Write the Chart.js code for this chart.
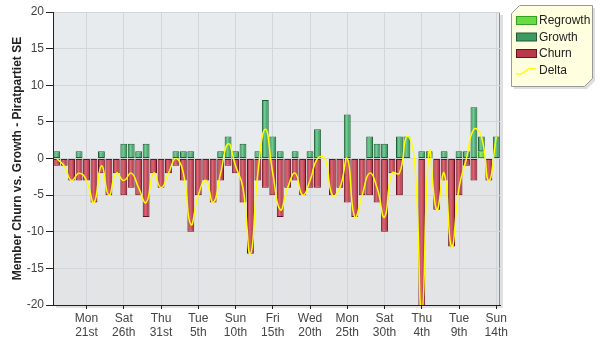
<!DOCTYPE html>
<html>
<head>
<meta charset="utf-8">
<script src="https://cdn.jsdelivr.net/npm/chart.js@4.4.0/dist/chart.umd.min.js"></script>
<style>
  html, body { margin: 0; padding: 0; background: #fff; }
  #wrap { width: 600px; height: 350px; }
</style>
</head>
<body>
<div id="wrap"><canvas id="churnChart" width="600" height="350"></canvas></div>
<script>
// one entry per day, 17th of the first month to 14th of the third
const days = [17, 18, 19, 20, 21, 22, 23, 24, 25, 26, 27, 28, 29, 30, 31,
  1, 2, 3, 4, 5, 6, 7, 8, 9, 10, 11, 12, 13, 14, 15, 16, 17, 18, 19, 20, 21, 22, 23, 24, 25, 26, 27, 28, 29, 30, 31,
  1, 2, 3, 4, 5, 6, 7, 8, 9, 10, 11, 12, 13, 14];

const tickIndex = [4, 9, 14, 19, 24, 29, 34, 39, 44, 49, 54, 59];
const tickLabels = [["Mon", "21st"], ["Sat", "26th"], ["Thu", "31st"], ["Tue", "5th"], ["Sun", "10th"], ["Fri", "15th"],
  ["Wed", "20th"], ["Mon", "25th"], ["Sat", "30th"], ["Thu", "4th"], ["Tue", "9th"], ["Sun", "14th"]];

const regrowth = [0, 0, 0, 0, 0, 0, 0, 0, 0, 0, 0, 0, 0, 0, 0, 0, 0, 0, 0, 0,
  0, 0, 0, 0, 0, 0, 0, 0, 0, 0, 0, 0, 0, 0, 0, 0, 0, 0, 0, 0,
  0, 0, 0, 0, 0, 0, 0, 0, 0, 0, 0, 0, 0, 0, 0, 0, 0, 1, 0, 0];
const growth = [1, 0, 0, 1, 0, 0, 1, 0, 0, 2, 2, 1, 2, 0, 0, 0, 1, 1, 1, 0,
  0, 0, 1, 3, 1, 2, 0, 1, 8, 3, 1, 0, 1, 0, 1, 4, 0, 0, 0, 6,
  0, 0, 3, 2, 2, 0, 3, 3, 0, 1, 1, 0, 1, 0, 1, 1, 7, 2, 0, 3];
const churn = [-1, -1, -3, -3, -3, -6, -2, -5, -2, -5, -4, -5, -8, -2, -4, -2, -1, -3, -10, -5,
  -3, -6, -3, -1, -2, -6, -13, -3, -4, -5, -8, -4, -3, -5, -4, -4, 0, -5, -4, -6,
  -8, -5, -5, -6, -10, -2, -5, 0, 0, -22, 0, -7, -3, -12, -5, -1, -3, 0, -3, 0];
const delta = [0, -1, -3, -2, -3, -6, -1, -5, -2, -3, -2, -4, -6, -2, -4, -2, 0, -2, -9, -5,
  -3, -6, -2, 2, -1, -4, -13, -2, 4, -2, -7, -4, -2, -5, -3, 0, 0, -5, -4, 0,
  -8, -5, -2, -4, -8, -2, -2, 3, 0, -21, 1, -7, -2, -12, -4, 0, 4, 3, -3, 3];

const font = "'Liberation Sans', Arial, sans-serif";

// cylinder look: dark edges, light middle
function barFill(dark, light) {
  return (ctx) => {
    const chart = ctx.chart;
    const xs = chart.scales.x;
    if (!chart.chartArea || !xs || ctx.type !== "data") return dark;
    const cx = xs.getPixelForValue(ctx.dataIndex);
    const g = chart.ctx.createLinearGradient(cx - 3.4, 0, cx + 3.4, 0);
    g.addColorStop(0, dark);
    g.addColorStop(0.4, light);
    g.addColorStop(1, dark);
    return g;
  };
}

const plotBg = {
  id: "plotBg",
  beforeDraw(chart) {
    const { ctx, chartArea } = chart;
    const { left, top, right, bottom } = chartArea;
    const y0 = chart.scales.y.getPixelForValue(0);
    ctx.save();
    ctx.fillStyle = "rgba(0,0,0,0.12)";
    ctx.fillRect(left + 3, top + 3, right - left, bottom - top);
    ctx.fillStyle = "#e8ebee";
    ctx.fillRect(left, top, right - left, y0 - top);
    ctx.fillStyle = "#e2e4e6";
    ctx.fillRect(left, y0, right - left, bottom - y0);
    ctx.strokeStyle = "#8c8c8c";
    ctx.lineWidth = 1;
    ctx.strokeRect(left + 0.5, top + 0.5, right - left - 1, bottom - top);
    ctx.restore();
  }
};

const legendBox = {
  id: "legendBox",
  afterDraw(chart) {
    const c = chart.ctx;
    const x0 = 511, y0 = 5, x1 = 592, y1 = 86, b = 8;
    const shape = (d) => {
      c.beginPath();
      c.moveTo(x0 + b + d, y0 + d);
      c.lineTo(x1 + d, y0 + d);
      c.lineTo(x1 + d, y1 - b + d);
      c.lineTo(x1 - b + d, y1 + d);
      c.lineTo(x0 + d, y1 + d);
      c.lineTo(x0 + d, y0 + b + d);
      c.closePath();
    };
    c.save();
    shape(3);
    c.fillStyle = "rgba(0,0,0,0.13)";
    c.fill();
    shape(0.5);
    c.fillStyle = "#ffffe0";
    c.fill();
    c.strokeStyle = "#999";
    c.lineWidth = 1;
    c.stroke();

    const items = [
      { text: "Regrowth", fill: "#66dd44", edge: "#33a020" },
      { text: "Growth", fill: "#3e9a62", edge: "#1f5e35" },
      { text: "Churn", fill: "#b8394c", edge: "#6e1222" },
      { text: "Delta", line: "#ffff00" }
    ];
    c.font = "12px " + font;
    c.textBaseline = "middle";
    items.forEach((it, i) => {
      const cy = 21 + i * 16.5;
      if (it.line) {
        c.beginPath();
        c.moveTo(516, cy + 3);
        c.bezierCurveTo(521, cy + 5, 524, cy + 2, 526, cy);
        c.bezierCurveTo(529, cy - 3, 532, cy - 3, 536, cy - 1);
        c.strokeStyle = it.line;
        c.lineWidth = 1.5;
        c.stroke();
      } else {
        c.fillStyle = it.fill;
        c.fillRect(516.5, cy - 4.5, 20, 8);
        c.strokeStyle = it.edge;
        c.lineWidth = 1;
        c.strokeRect(516.5, cy - 4.5, 20, 8);
      }
      c.fillStyle = "#222";
      c.fillText(it.text, 539, cy);
    });
    c.restore();
  }
};

const ctx = document.getElementById("churnChart").getContext("2d");
const churnChart = new Chart(ctx, {
  type: "bar",
  data: {
    labels: days,
    datasets: [
      {
        type: "line",
        label: "Delta",
        data: delta,
        stack: "delta",
        borderColor: "#ffff00",
        borderWidth: 1.5,
        pointRadius: 0,
        tension: 0.5,
        fill: false,
        order: 0
      },
      {
        label: "Regrowth",
        data: regrowth,
        stack: "bars",
        backgroundColor: barFill("#44c022", "#8cf070"),
        borderColor: "#2f9a1c",
        borderWidth: 1,
        borderSkipped: false,
        order: 1
      },
      {
        label: "Growth",
        data: growth,
        stack: "bars",
        backgroundColor: barFill("#2c8550", "#72cf94"),
        borderColor: "#1d5e34",
        borderWidth: 1,
        borderSkipped: false,
        order: 1
      },
      {
        label: "Churn",
        data: churn,
        stack: "bars",
        backgroundColor: barFill("#a52638", "#dc6876"),
        borderColor: "#6a1020",
        borderWidth: 1,
        borderSkipped: false,
        order: 1
      }
    ]
  },
  options: {
    responsive: false,
    animation: false,
    layout: { padding: { top: 12, right: 100, left: 0, bottom: 0 } },
    datasets: { bar: { barPercentage: 0.92, categoryPercentage: 1.0 } },
    plugins: { legend: { display: false }, tooltip: { enabled: false } },
    scales: {
      x: {
        stacked: true,
        offset: true,
        grid: { offset: false, color: "#d3d6d9", tickColor: "#222", tickLength: 4 },
        border: { color: "#222" },
        ticks: {
          autoSkip: false,
          maxRotation: 0,
          padding: 2,
          color: "#444",
          font: { family: font, size: 12 },
          callback: (value, index) => {
            const k = tickIndex.indexOf(index);
            return k >= 0 ? tickLabels[k] : null;
          }
        },
        afterFit: (scale) => { scale.height = 45; }
      },
      y: {
        stacked: true,
        min: -20,
        max: 20,
        grid: { color: "#d3d6d9", tickColor: "#222", tickLength: 7 },
        border: { color: "#222" },
        ticks: {
          stepSize: 5,
          padding: 2,
          color: "#444",
          font: { family: font, size: 12 }
        },
        title: {
          display: true,
          text: "Member Churn vs. Growth - Piratpartiet SE",
          color: "#222",
          font: { family: font, size: 12, weight: "bold" },
          padding: { top: 10, bottom: 0 }
        },
        afterFit: (scale) => { scale.width = 53; }
      }
    }
  },
  plugins: [plotBg, legendBox]
});
</script>
</body>
</html>
